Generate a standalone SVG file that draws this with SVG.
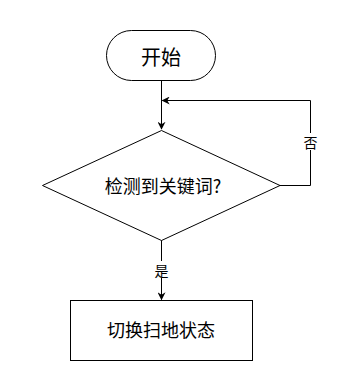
<svg xmlns="http://www.w3.org/2000/svg" width="339" height="380" viewBox="0 0 339 380">
<style>
.shape{fill:#fff;stroke:#000;stroke-width:1}
.conn{fill:none;stroke:#000;stroke-width:1}
.t{font-family:"Noto Sans CJK SC","Noto Sans",sans-serif;fill:#000;text-anchor:middle;dominant-baseline:central}
.lbl{font-size:14px}
</style>
<defs>
<marker id="arr" viewBox="0 0 10 10" refX="9" refY="5" markerWidth="8" markerHeight="8" markerUnits="userSpaceOnUse" orient="auto">
<path d="M0,0 L10,5 L0,10 L3,5 Z" fill="#000"/>
</marker>
</defs>
<rect width="339" height="380" fill="#fff"/>
<g id="connectors">
<path class="conn" d="M161.5,81 L161.5,129" marker-end="url(#arr)"/>
<path class="conn" d="M279,185.5 L310.5,185.5 L310.5,100.5 L162.5,100.5" marker-end="url(#arr)"/>
<path class="conn" d="M161.5,240 L161.5,299.5" marker-end="url(#arr)"/>
<rect x="302" y="133" width="17" height="17" fill="#fff"/>
<text class="t lbl" x="310.5" y="141.5">否</text>
<rect x="153" y="261" width="17" height="17" fill="#fff"/>
<text class="t lbl" x="161.5" y="269.5">是</text>
</g>
<g id="start">
<rect class="shape" x="106.5" y="30.5" width="109" height="50" rx="25" ry="25"/>
<text class="t" x="161" y="56" font-size="20">开始</text>
</g>
<g id="decision">
<polygon class="shape" points="161.5,130.5 280,185.5 161.5,240.5 42.5,185.5"/>
<text class="t" x="163" y="185" font-size="18">检测到关键词?</text>
</g>
<g id="switch">
<rect class="shape" x="70.5" y="300.5" width="182" height="60"/>
<text class="t" x="161" y="329" font-size="18">切换扫地状态</text>
</g>
</svg>
